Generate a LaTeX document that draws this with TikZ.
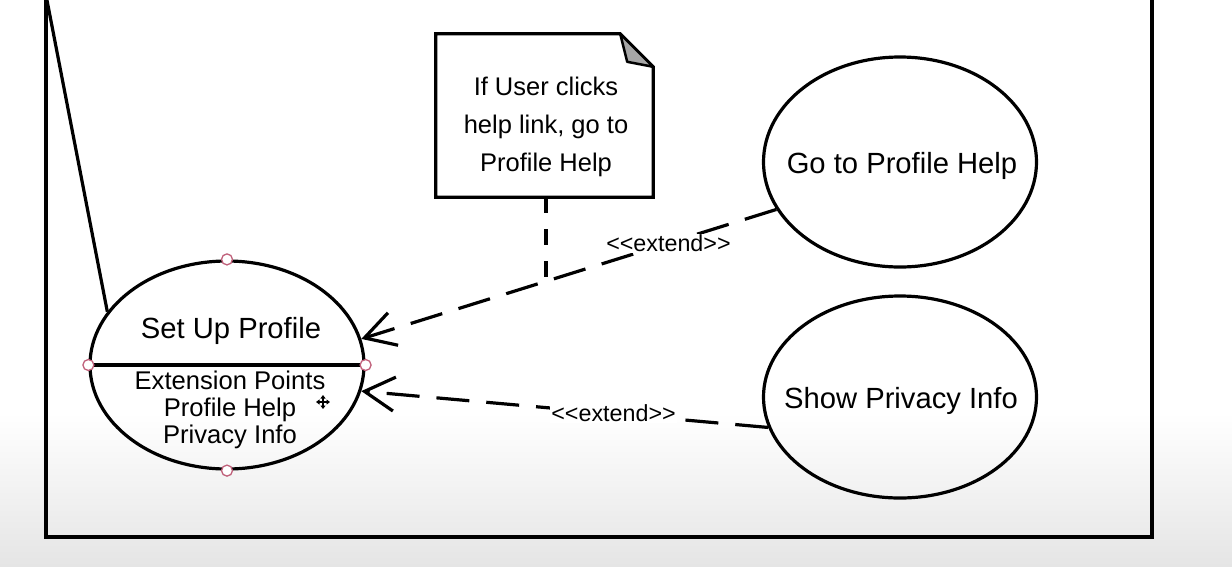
\documentclass[tikz,border=0pt]{standalone}
\usepackage{fontspec}
\setmainfont{Liberation Sans}
\usetikzlibrary{shapes.geometric,arrows.meta,calc}
\definecolor{handle}{HTML}{C0607A}
\definecolor{foldgray}{HTML}{A6A6A6}
\definecolor{fadegray}{HTML}{E5E5E5}
\begin{document}
\begin{tikzpicture}[x=1pt,y=-1pt,
  usecase/.style={ellipse,draw,line width=3.2pt,inner sep=0pt},
  uctext/.style={font=\fontsize{29.2}{34}\selectfont},
  exttext/.style={font=\fontsize{25.6}{27}\selectfont,align=center},
  notetext/.style={font=\fontsize{25.5}{38}\selectfont,align=center},
  steretype/.style={font=\fontsize{23.3}{26}\selectfont,fill=white,inner sep=1pt},
  extendline/.style={line width=3.2pt,dash pattern=on 33pt off 17pt,
    -{Straight Barb[length=30pt,width=34pt,line width=3.2pt]}},
  anchorline/.style={line width=3.2pt,dash pattern=on 16pt off 16pt},
  grip/.style={draw=handle,fill=white,line width=1.3pt,circle,inner sep=0pt,minimum size=11pt},
  solidline/.style={line width=3.2pt},
]
\useasboundingbox (0,0) rectangle (1232,566);
\clip (0,0) rectangle (1232,566);

% page background fading to grey at the bottom
\fill[white] (0,0) rectangle (1232,414);
\shade[top color=white,bottom color=fadegray] (0,413) rectangle (1232,566);

% system boundary
\draw[solidline] (46,-10) -- (46,537) -- (1152,537) -- (1152,-10);

% use cases
\node[usecase,minimum width=274pt,minimum height=208pt] (setup) at (227,365) {};
\node[usecase,minimum width=273pt,minimum height=210pt] (help) at (900,162) {};
\node[usecase,minimum width=273pt,minimum height=202pt] (privacy) at (900,397) {};

\node[uctext] (setuplabel) at (231,331) {Set Up Profile};
\node[uctext] (helplabel) at (902,166) {Go to Profile Help};
\node[uctext] (privacylabel) at (901,401) {Show Privacy Info};

% extension point compartment
\draw[solidline] (setup.west) -- (setup.east);
\node[exttext] (extpoints) at (230,410) {Extension Points\\Profile Help\\Privacy Info};

% association from the actor
\coordinate (actor) at (45,-10);
\draw[solidline] (actor) -- (setup.156.4);

% note with folded corner
\node[minimum width=217pt,minimum height=163pt,inner sep=0pt] (note) at (544.5,115.5) {};
\draw[solidline,line join=miter]
  (note.north west) -- ($(note.north east)+(-33,0)$) -- ($(note.north east)+(0,33)$)
  -- (note.south east) -- (note.south west) -- cycle;
\filldraw[fill=foldgray,line width=2.5pt,line join=round]
  ($(note.north east)+(-33,0)$) -- ($(note.north east)+(-26,28)$) -- ($(note.north east)+(0,33)$) -- cycle;
\node[notetext] (notebody) at (546,127) {If User clicks\\help link, go to\\Profile Help};
\coordinate (noteend) at (546,281);
\draw[anchorline] (note.south -| noteend) -- (noteend);

% extend relationships
\draw[extendline] (help.201.8) -- node[steretype,pos=0.26] {<\kern0pt<extend>\kern0pt>} (setup.11.7);
\draw[extendline] (privacy.193) -- node[steretype,pos=0.38] {<\kern0pt<extend>\kern0pt>} (setup.349.5);

% selection handles
\foreach \a in {north,south,west,east} \node[grip] at (setup.\a) {};

% move cursor
\begin{scope}[line width=1.3pt]
  \draw[{Triangle[length=3.5pt,width=5pt]}-{Triangle[length=3.5pt,width=5pt]}] (316,402) -- (330,402);
  \draw[{Triangle[length=3.5pt,width=5pt]}-{Triangle[length=3.5pt,width=5pt]}] (323,395) -- (323,409);
\end{scope}
\end{tikzpicture}
\end{document}
